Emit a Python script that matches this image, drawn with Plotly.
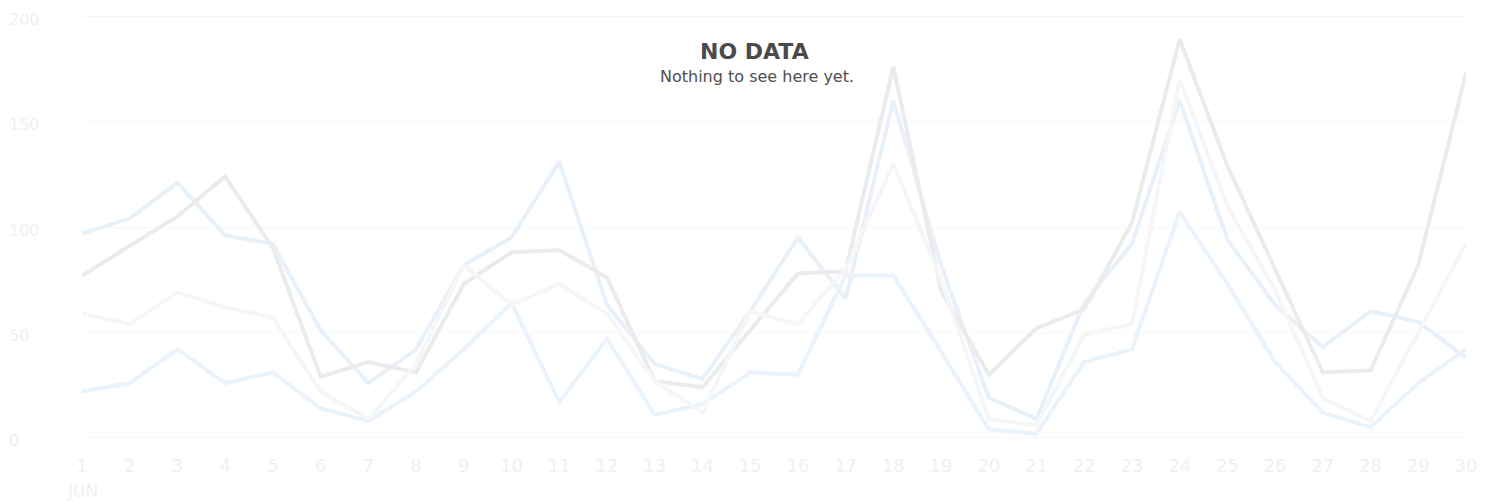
import plotly.graph_objects as go

# dagen van juni
days = list(range(1, 31))
day_labels = [str(d) for d in days]

# vier (vervaagde) reeksen
grey_dark = [77, 91, 105, 124, 90, 29, 36, 31, 73, 88, 89, 76, 27, 24, 51,
             78, 79, 176, 70, 30, 52, 61, 102, 189, 129, 80, 31, 32, 82, 173]
blue_upper = [97, 104, 121, 96, 92, 51, 26, 42, 82, 95, 131, 63, 35, 28, 60,
              95, 66, 160, 82, 19, 9, 64, 92, 160, 94, 63, 43, 60, 55, 38]
blue_lower = [22, 26, 42, 26, 31, 14, 8, 22, 42, 64, 17, 47, 11, 16, 31,
              30, 77, 77, 41, 4, 2, 36, 42, 107, 73, 36, 12, 5, 26, 42]
grey_light = [59, 54, 69, 62, 57, 22, 9, 35, 82, 63, 73, 59, 27, 12, 60,
              54, 80, 130, 75, 9, 6, 49, 54, 170, 110, 70, 19, 8, 50, 92]

y_ticks = [0, 50, 100, 150, 200]

series = [
    (blue_upper, "#e8f1f9"),
    (grey_dark, "#ebebeb"),
    (blue_lower, "#eaf3fb"),
    (grey_light, "#f6f6f6"),
]

fig = go.Figure()
for values, color in series:
    fig.add_trace(go.Scatter(
        x=days, y=values, mode="lines",
        line=dict(color=color, width=4),
        hoverinfo="skip", showlegend=False,
    ))

# de pagina heeft 8px body-marge, dus figuur iets kleiner
W, H = 1483, 496
# y-bereik iets ruimer zodat de rasterlijnen op 0 en 200 getekend worden
TOP, BOTTOM = 6, 64
plot_h = H - TOP - BOTTOM


def py(pixel_y):
    # pixel (vanaf boven, in figuur) -> papiercoördinaat
    return 1 - (pixel_y - TOP) / plot_h


fig.update_layout(
    width=W, height=H,
    margin=dict(l=0, r=0, t=TOP, b=BOTTOM),
    plot_bgcolor="white",
    paper_bgcolor="white",
    font=dict(family="DejaVu Sans", color="#f0f0f0"),
    xaxis=dict(
        domain=[74 / W, 1458 / W],
        range=[1, 30],
        tickvals=days,
        ticktext=day_labels,
        tickfont=dict(size=18, color="#f0f0f0"),
        ticklabelstandoff=13,
        automargin=False,
        showgrid=False, zeroline=False, showline=False,
    ),
    yaxis=dict(
        range=[-1, 201],
        tickvals=y_ticks,
        ticktext=[str(v) for v in y_ticks],
        anchor="free", position=0, side="right",
        ticklabelstandoff=0,
        ticklabelshift=3,
        ticklabeloverflow="allow",
        automargin=False,
        tickfont=dict(size=16, color="#f0f0f0"),
        showgrid=True, gridcolor="#f7f7f7", gridwidth=1,
        zeroline=False, showline=False,
    ),
    annotations=[
        dict(text="JUN", x=1, xref="x", y=0, yref="paper", yshift=-51,
             showarrow=False, yanchor="middle", xanchor="center",
             font=dict(size=17, color="#f0f0f0")),
        dict(text="<b>NO DATA</b>", x=747 / W, xref="paper", y=py(43),
             yref="paper", showarrow=False, yanchor="middle", xanchor="center",
             font=dict(size=22, color="#4a4a4a")),
        dict(text="Nothing to see here yet.", x=749 / W, xref="paper", y=py(68),
             yref="paper", showarrow=False, yanchor="middle", xanchor="center",
             font=dict(size=16, color="#4f4f4f")),
    ],
)

fig.write_html("out.html")
